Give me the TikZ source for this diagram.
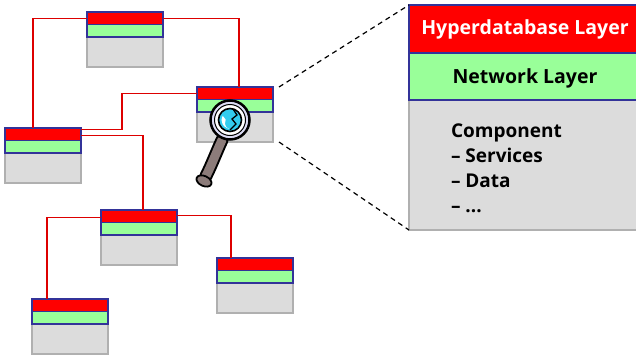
\documentclass[tikz,border=0pt]{standalone}
\usepackage{fontspec}
\setmainfont{Open Sans}
\usetikzlibrary{positioning}
\definecolor{hdrred}{HTML}{FF0000}
\definecolor{netgreen}{HTML}{99FF99}
\definecolor{compgray}{HTML}{DCDCDC}
\definecolor{rimgray}{HTML}{B0B0B0}
\definecolor{layblue}{HTML}{333399}
\definecolor{linkred}{HTML}{DD0000}
\definecolor{handlegray}{HTML}{8C7C7A}
\definecolor{ringblue}{HTML}{DCDCF4}
\definecolor{lenscyan}{HTML}{33CCEE}
\begin{document}
\begin{tikzpicture}[
        x=1pt, y=-1pt,
        % 節點共用設定
        every node/.style={inner sep=0pt, outer sep=0pt},
        % 小節點的三層
        hdr/.style={rectangle, draw=layblue, fill=hdrred, line width=1.2pt,
            minimum width=76pt, minimum height=12.5pt},
        net/.style={rectangle, draw=layblue, fill=netgreen, line width=1.2pt,
            minimum width=76pt, minimum height=12.5pt},
        comp/.style={rectangle, draw=rimgray, fill=compgray, line width=1.2pt,
            minimum width=76pt, minimum height=30pt, anchor=north west},
        % 放大後的節點
        bighdr/.style={hdr, minimum width=232pt, minimum height=48pt,
            text=white, font=\fontsize{19.5}{22}\selectfont\bfseries},
        bignet/.style={net, minimum width=232pt, minimum height=47pt,
            font=\fontsize{19.5}{22}\selectfont\bfseries},
        bigcomp/.style={comp, minimum width=232pt, minimum height=130pt},
        % 連線樣式
        link/.style={draw=linkred, line width=1.2pt},
        zoomline/.style={draw=black, dash pattern=on 5pt off 4pt, line width=1.2pt}
    ]
    \useasboundingbox (0,0) rectangle (636,356);

    % --- 六個節點 (灰、綠、紅由下往上疊) ---
    \node[comp] (top-c) at (87,37) {};
    \node[net, above=0pt of top-c] (top-n) {};
    \node[hdr, above=0pt of top-n] (top-h) {};

    \node[comp] (mid-c) at (197,112) {};
    \node[net, above=0pt of mid-c] (mid-n) {};
    \node[hdr, above=0pt of mid-n] (mid-h) {};

    \node[comp] (left-c) at (5,153) {};
    \node[net, above=0pt of left-c] (left-n) {};
    \node[hdr, above=0pt of left-n] (left-h) {};

    \node[comp] (center-c) at (101,235) {};
    \node[net, above=0pt of center-c] (center-n) {};
    \node[hdr, above=0pt of center-n] (center-h) {};

    \node[comp] (right-c) at (217,283) {};
    \node[net, above=0pt of right-c] (right-n) {};
    \node[hdr, above=0pt of right-n] (right-h) {};

    \node[comp] (bottom-c) at (32,324) {};
    \node[net, above=0pt of bottom-c] (bottom-n) {};
    \node[hdr, above=0pt of bottom-n] (bottom-h) {};

    % --- 紅色連線 ---
    \draw[link] (top-h.west) -| ([xshift=-10pt]left-h.north);
    \draw[link] (top-h.east) -| ([xshift=4pt]mid-h.north);
    \draw[link] (mid-h.west) -- ++(-75,0) |- ([yshift=4.5pt]left-h.east);
    \draw[link] ([yshift=-1.5pt]left-h.east) -| ([xshift=4pt]center-h.north);
    \draw[link] ([yshift=-1.5pt]center-h.west) -| ([xshift=-23pt]bottom-h.north);
    \draw[link] ([yshift=0.5pt]center-h.east) -| ([xshift=-24pt]right-h.north);

    % --- 放大鏡 ---
    \coordinate (lens) at (230,120);
    \draw[line width=13pt, line cap=round] (222,140) .. controls (216,153) and (212,164) .. (206,176);
    \draw[handlegray, line width=9pt, line cap=round] (222,140) .. controls (216,153) and (212,164) .. (206,176);
    \draw[fill=handlegray, line width=1.8pt, rotate around={-25:(204,181)}] (204,181) ellipse (8 and 5);
    \draw[line width=2.5pt, fill=ringblue] (lens) circle (19.5);
    \draw[line width=1pt, fill=white] (lens) circle (15.5);
    \draw[line width=1.6pt, fill=lenscyan] (lens) circle (11.5);
    \fill[white] (lens) ++(-150:8.5) arc (-150:-250:8.5) -- ++(2,1) arc (-250:-150:6.5) -- cycle;
    \draw[line width=1.3pt] (233,109) -- (237,115) -- (232,119) -- (236,124) -- (230,130);

    % --- 放大後的節點 ---
    \node[bigcomp] (big-c) at (409,100) {};
    \node[bignet, above=0pt of big-c, text depth=0pt, yshift=0pt] (big-n) {Network Layer};
    \node[bighdr, above=0pt of big-n] (big-h) {Hyperdatabase Layer};
    \node[anchor=north west, align=left, font=\fontsize{19}{25}\selectfont\bfseries]
        (big-text) at (451,124) {Component\\– Services\\– Data\\– ...};

    % --- 虛線 ---
    \draw[zoomline] ([xshift=6pt]mid-h.north east) -- (big-h.north west);
    \draw[zoomline] ([xshift=6pt]mid-c.south east) -- (big-c.south west);
\end{tikzpicture}
\end{document}
